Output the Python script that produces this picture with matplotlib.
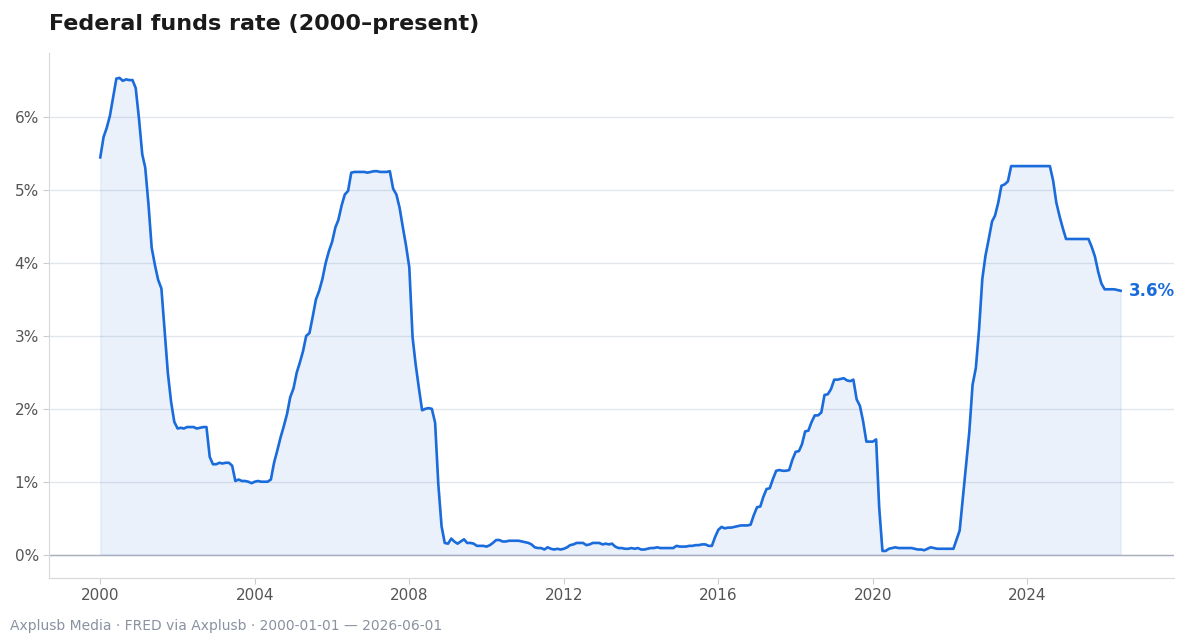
import matplotlib
matplotlib.use("Agg")
import matplotlib.pyplot as plt
import numpy as np
import pandas as pd
from matplotlib.ticker import FuncFormatter

start = "2000-01-01"
rates = [
5.45,5.73,5.85,6.02,6.27,6.53,6.54,6.50,6.52,6.51,6.51,6.40,
5.98,5.49,5.31,4.80,4.21,3.97,3.77,3.65,3.07,2.49,2.09,1.82,
1.73,1.74,1.73,1.75,1.75,1.75,1.73,1.74,1.75,1.75,1.34,1.24,
1.24,1.26,1.25,1.26,1.26,1.22,1.01,1.03,1.01,1.01,1.00,0.98,
1.00,1.01,1.00,1.00,1.00,1.03,1.26,1.43,1.61,1.76,1.93,2.16,
2.28,2.50,2.63,2.79,3.00,3.04,3.26,3.50,3.62,3.78,4.00,4.16,
4.29,4.49,4.59,4.79,4.94,4.99,5.24,5.25,5.25,5.25,5.25,5.24,
5.25,5.26,5.26,5.25,5.25,5.25,5.26,5.02,4.94,4.76,4.49,4.24,
3.94,2.98,2.61,2.28,1.98,2.00,2.01,2.00,1.81,0.97,0.39,0.16,
0.15,0.22,0.18,0.15,0.18,0.21,0.16,0.16,0.15,0.12,0.12,0.12,
0.11,0.13,0.16,0.20,0.20,0.18,0.18,0.19,0.19,0.19,0.19,0.18,
0.17,0.16,0.14,0.10,0.09,0.09,0.07,0.10,0.08,0.07,0.08,0.07,
0.08,0.10,0.13,0.14,0.16,0.16,0.16,0.13,0.14,0.16,0.16,0.16,
0.14,0.15,0.14,0.15,0.11,0.09,0.09,0.08,0.08,0.09,0.08,0.09,
0.07,0.07,0.08,0.09,0.09,0.10,0.09,0.09,0.09,0.09,0.09,0.12,
0.11,0.11,0.11,0.12,0.12,0.13,0.13,0.14,0.14,0.12,0.12,0.24,
0.34,0.38,0.36,0.37,0.37,0.38,0.39,0.40,0.40,0.40,0.41,0.54,
0.65,0.66,0.79,0.90,0.91,1.04,1.15,1.16,1.15,1.15,1.16,1.30,
1.41,1.42,1.51,1.69,1.70,1.82,1.91,1.91,1.95,2.19,2.20,2.27,
2.40,2.40,2.41,2.42,2.39,2.38,2.40,2.13,2.04,1.83,1.55,1.55,
1.55,1.58,0.65,0.05,0.05,0.08,0.09,0.10,0.09,0.09,0.09,0.09,
0.09,0.08,0.07,0.07,0.06,0.08,0.10,0.09,0.08,0.08,0.08,0.08,
0.08,0.08,0.20,0.33,0.77,1.21,1.68,2.33,2.56,3.08,3.78,4.10,
4.33,4.57,4.65,4.83,5.06,5.08,5.12,5.33,5.33,5.33,5.33,5.33,
5.33,5.33,5.33,5.33,5.33,5.33,5.33,5.33,5.13,4.83,4.64,4.48,
4.33,4.33,4.33,4.33,4.33,4.33,4.33,4.33,4.22,4.09,3.88,3.72,
3.64,3.64,3.64,3.64,3.63,3.62,
]
dates = pd.date_range(start, periods=len(rates), freq="MS")
years = [2000, 2004, 2008, 2012, 2016, 2020, 2024]

color = "#1a6bdb"
fig = plt.figure(figsize=(12, 6.4), dpi=100)
ax = fig.add_axes([0.041, 0.097, 0.937, 0.82])
ax.plot(dates, rates, color=color, lw=1.9)
ax.fill_between(dates, rates, 0, color=color, alpha=0.09)
ax.axhline(0, color="#a8b0bd", lw=1)
ax.set_ylim(-0.32, 6.88)
ax.set_xlim(pd.Timestamp("1998-09-05"), pd.Timestamp("2027-10-15"))
ax.set_yticks(range(0, 7))
ax.yaxis.set_major_formatter(FuncFormatter(lambda v, p: f"{v:.0f}%"))
ax.set_xticks([pd.Timestamp(f"{y}-01-01") for y in years])
ax.set_xticklabels([str(y) for y in years])
ax.grid(axis="y", color="#e3e6eb", lw=1)
ax.set_axisbelow(True)
for s in ["top", "right"]:
    ax.spines[s].set_visible(False)
for s in ["left", "bottom"]:
    ax.spines[s].set_color("#d5d8dd")
ax.tick_params(colors="#cccccc", labelcolor="#555555", labelsize=11, length=4)
ax.annotate(f"{rates[-1]:.1f}%", (dates[-1], rates[-1]), xytext=(6, 0),
            textcoords="offset points", va="center", color=color,
            fontsize=12, fontweight="bold")
fig.text(0.041, 0.962, "Federal funds rate (2000–present)", fontsize=16,
         fontweight="bold", color="#1a1a1a", va="center")
fig.text(0.008, 0.022, "Axplusb Media · FRED via Axplusb · 2000-01-01 — 2026-06-01",
         fontsize=10, color="#8a92a0", va="center")
fig.savefig("out.png")
